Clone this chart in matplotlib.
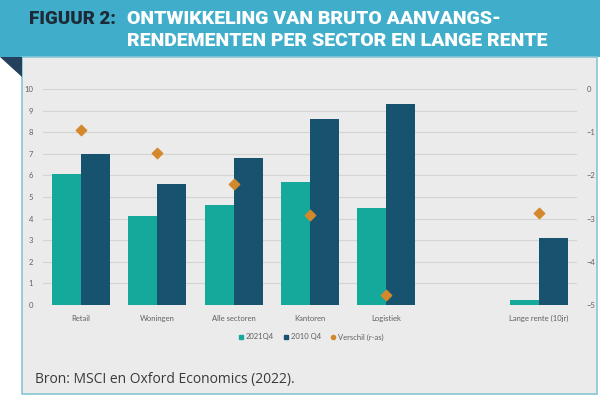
import matplotlib.pyplot as plt
from matplotlib.patches import Rectangle, Polygon
from matplotlib.lines import Line2D
import numpy as np

# data
categories = ["Retail", "Woningen", "Alle sectoren", "Kantoren", "Logistiek", "", "Lange rente (10jr)"]
q4_2021 = [6.05, 4.12, 4.62, 5.70, 4.50, np.nan, 0.23]
q4_2010 = [7.00, 5.60, 6.80, 8.62, 9.30, np.nan, 3.10]
verschil = [-0.95, -1.48, -2.20, -2.92, -4.78, np.nan, -2.87]

left_ticks = list(range(0, 11))
right_ticks = [0, -1, -2, -3, -4, -5]

teal = "#14a99b"
navy = "#17526f"
orange = "#d3892b"
tick_col = "#606060"

fig = plt.figure(figsize=(6, 3.97), dpi=100)
fig.patch.set_facecolor("white")

# background: header band, panel, folded corner
bg = fig.add_axes([0, 0, 1, 1])
bg.set_xlim(0, 600)
bg.set_ylim(397, 0)
bg.axis("off")
bg.add_patch(Rectangle((0, 0), 600, 57, color="#40aeca", lw=0))
bg.add_patch(Rectangle((22, 57), 575, 337, facecolor="#ebebeb", edgecolor="#86c6d4", lw=1.2))
bg.add_patch(Polygon([(0, 57), (22, 57), (22, 77)], closed=True, color="#23405c", lw=0))

bg.text(29, 19, "FIGUUR 2:", color="#1d2b38", fontsize=13.5, fontweight="black",
        family="Roboto", va="center", ha="left")
bg.text(127, 19, "ONTWIKKELING VAN BRUTO AANVANGS-", color="white", fontsize=14,
        fontweight="black", family="Roboto", va="center", ha="left")
bg.text(127, 41, "RENDEMENTEN PER SECTOR EN LANGE RENTE", color="white", fontsize=14,
        fontweight="black", family="Roboto", va="center", ha="left")
bg.text(35, 380, "Bron: MSCI en Oxford Economics (2022).", color="#3a3a3a", fontsize=10,
        family="Open Sans", va="center", ha="left")

# chart
ax = fig.add_axes([43 / 600, 1 - 305 / 397, 534 / 600, 216 / 397])
ax.set_facecolor("none")
x = np.arange(len(categories))
w = 0.38
ax.bar(x - w / 2, q4_2021, width=w, color=teal, zorder=3, label="2021Q4")
ax.bar(x + w / 2, q4_2010, width=w, color=navy, zorder=3, label="2010 Q4")
ax.set_xlim(-0.5, len(categories) - 0.5)
ax.set_ylim(0, 10)
ax.set_yticks(left_ticks)
ax.grid(axis="y", color="#d4d4d4", lw=0.8, zorder=0)
ax.set_axisbelow(True)
ax.set_xticks(x)
ax.set_xticklabels(categories)
for s in ax.spines.values():
    s.set_visible(False)
ax.tick_params(length=0, labelsize=5.5, labelcolor=tick_col, pad=7)
for lab in ax.get_xticklabels() + ax.get_yticklabels():
    lab.set_family("Lato")

ax2 = ax.twinx()
ax2.scatter(x, verschil, marker="D", s=28, color=orange, zorder=4)
ax2.set_ylim(-5, 0)
ax2.set_yticks(right_ticks)
for s in ax2.spines.values():
    s.set_visible(False)
ax2.tick_params(length=0, labelsize=5.5, labelcolor=tick_col, pad=7)
for lab in ax2.get_yticklabels():
    lab.set_family("Lato")

handles = [
    Line2D([], [], marker="s", ls="", color=teal, markersize=3.5),
    Line2D([], [], marker="s", ls="", color=navy, markersize=3.5),
    Line2D([], [], marker="o", ls="", color=orange, markersize=3),
]
fig.legend(handles, ["2021Q4", "2010 Q4", "Verschil (r-as)"], loc="center",
           bbox_to_anchor=(311 / 600, 1 - 337 / 397), ncol=3, frameon=False,
           prop={"family": "Lato", "size": 5.5}, labelcolor=tick_col,
           handletextpad=0.2, columnspacing=1.2, handlelength=0.8)

fig.savefig("out.png", dpi=100)
